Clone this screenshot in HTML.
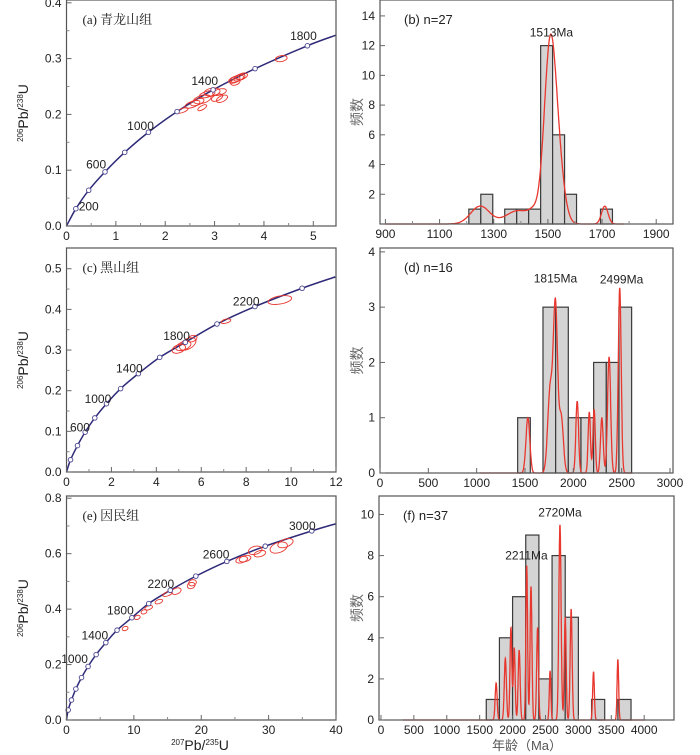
<!DOCTYPE html>
<html><head><meta charset="utf-8">
<style>
html,body{margin:0;padding:0;background:#fff;}
svg{display:block;font-family:"Liberation Sans","Noto Sans CJK SC",sans-serif;}
</style></head>
<body>
<svg id="fig" width="700" height="755" viewBox="0 0 700 755" xmlns="http://www.w3.org/2000/svg"></svg>
<script>
// ===== Concordia data =====
const concA_x=[0,0.19,0.45,0.78,1.18,1.66,2.24,2.97,3.82,4.88,5.46];
const concA_y=[0,0.031,0.064,0.097,0.132,0.168,0.205,0.244,0.282,0.323,0.342];
const concA_lbl=["200","600","1000","1400","1800"];
const concA_lblX=[0.45,0.6,1.5,2.8,4.8];
const concA_lblY=[0.028,0.103,0.172,0.253,0.333];
const ellA=[[2.35,0.207,6,2,-20],[2.55,0.218,8,3,-20],[2.65,0.222,7,3,-20],[2.75,0.227,9,4,-15],[2.85,0.236,8,3,-15],[2.95,0.240,8,4,-10],[3.1,0.240,7,3,-15],[3.05,0.230,6,3,-25],[3.15,0.228,6,3,-25],[2.75,0.212,5,2,-30],[3.4,0.262,6,3,-20],[3.45,0.264,7,3,-20],[3.5,0.266,6,3,-20],[3.55,0.268,6,3,-20],[3.42,0.258,5,3,-20],[4.35,0.300,6,3,-10]];

const concC_x=[0,0.18,0.49,0.83,1.26,1.78,2.41,3.2,4.15,5.29,6.7,8.39,10.49,11.97];
const concC_y=[0,0.030,0.065,0.098,0.133,0.168,0.205,0.242,0.282,0.319,0.364,0.407,0.452,0.48];
const concC_lbl=["600","1000","1400","1800","2200"];
const concC_lblX=[0.6,1.4,2.8,4.9,8.0];
const concC_lblY=[0.100,0.170,0.245,0.325,0.410];
const ellC=[[5.0,0.303,7,4,-20],[5.2,0.310,8,4,-20],[5.4,0.315,9,5,-30],[5.6,0.328,5,3,-20],[7.1,0.371,5,2,-15],[9.5,0.423,12,4,-10]];

const concE_x=[0,0.25,0.74,1.39,2.23,3.2,4.4,5.84,7.5,9.7,12.2,15.4,19.2,23.8,29.5,36.4,40];
const concE_y=[0,0.036,0.072,0.112,0.153,0.193,0.236,0.279,0.324,0.369,0.42,0.468,0.519,0.572,0.627,0.682,0.708];
const concE_lbl=["1000","1400","1800","2200","2600","3000"];
const concE_lblX=[1.2,4.2,8.0,14.0,22.2,35.0];
const concE_lblY=[0.205,0.290,0.380,0.476,0.583,0.685];
const ellE=[[8.7,0.330,3,2,-20],[10.5,0.370,3,2,-20],[11.5,0.390,3,2,-20],[12.2,0.405,4,2,-20],[13.7,0.427,4,2,-20],[15.0,0.455,5,2,-20],[16.3,0.465,5,3,-20],[18.5,0.485,4,3,-20],[18.7,0.495,4,3,-20],[26.0,0.578,6,3,-15],[26.5,0.582,6,3,-15],[28.0,0.612,7,4,-15],[28.7,0.600,6,3,-15],[31.5,0.622,9,5,-20],[32.5,0.638,8,4,-20]];

// ===== Histogram data =====
const histB_start=1208, histB_width=44.2;
const histB_counts=[1,2,0,1,1,1,12,6,2,0,0,1];
const kdeB_age=[1250,1390,1450,1508,1540,1710];
const kdeB_h=[1.2,0.9,0.6,11.6,3.0,1.2];
const kdeB_s=[35,45,20,22,22,12];
const kdeB_range=[900,1780];
const peakB_lbl=["1513Ma"], peakB_age=[1513], peakB_val=[12.6];

const histD_start=1424, histD_width=131;
const histD_counts=[1,0,3,3,1,1,2,2,3];
const kdeD_age=[1530,1760,1815,1875,2040,2165,2215,2295,2370,2480];
const kdeD_h=[1.0,1.5,3.0,1.0,1.3,1.1,1.15,1.0,2.1,3.35];
const kdeD_s=[20,25,22,22,14,12,12,14,16,15];
const kdeD_range=[1030,2610];
const peakD_lbl=["1815Ma","2499Ma"], peakD_age=[1815,2499], peakD_val=[3.45,3.43];

const histF_start=1600, histF_width=200;
const histF_counts=[1,4,6,9,2,8,5,0,1,0,1];
const kdeF_age=[1750,1890,1975,2025,2100,2215,2280,2380,2570,2720,2800,2890,3230,3600];
const kdeF_h=[1.8,3.0,4.5,3.5,3.4,7.5,6.5,4.5,2.4,9.5,5.0,5.4,2.35,2.95];
const kdeF_s=[15,16,14,14,15,13,14,14,12,17,14,15,13,12];
const kdeF_range=[330,4020];
const peakF_lbl=["2211Ma","2720Ma"], peakF_age=[2211,2720], peakF_val=[7.8,9.9];

const NS="http://www.w3.org/2000/svg";
const svg=document.getElementById('fig');
function mk(tag,attrs,parent){const e=document.createElementNS(NS,tag);for(const k in attrs)e.setAttribute(k,attrs[k]);(parent||svg).appendChild(e);return e;}
function txt(s,x,y,anchor,size,parent,extra){const t=mk('text',Object.assign({x:x,y:y,'text-anchor':anchor,'font-size':size,fill:'#222'},extra||{}),parent);t.textContent=s;return t;}

function axes(g,P,xt,yt,xlbl,ylbl,minorX,minorY){
  mk('rect',{x:P.x0,y:P.y0,width:P.x1-P.x0,height:P.y1-P.y0,fill:'none',stroke:'#555','stroke-width':1.2},g);
  xt.forEach((v,i)=>{const px=P.sx(v);
    const t=mk('line',{x1:px,x2:px,y1:P.y1,y2:P.y1-5,stroke:'#666'},g);
    
    
    const l=txt(xlbl[i],px,P.y1+14,'middle',12,g);
    
    });
  yt.forEach((v,i)=>{const py=P.sy(v);
    const t=mk('line',{x1:P.x0,x2:P.x0+5,y1:py,y2:py,stroke:'#666'},g);
    
    
    if(ylbl[i]!==''){const l=txt(ylbl[i],P.x0-5,py+4,'end',12,g);
    
    }});
  (minorX||[]).forEach(v=>{const px=P.sx(v);mk('line',{x1:px,x2:px,y1:P.y1,y2:P.y1-3,stroke:'#888'},g);});
  (minorY||[]).forEach(v=>{const py=P.sy(v);mk('line',{x1:P.x0,x2:P.x0+3,y1:py,y2:py,stroke:'#888'},g);});
}
function panel(x0,x1,y0,y1,dx0,dx1,dy0,dy1){return {x0,x1,y0,y1,sx:v=>x0+(v-dx0)/(dx1-dx0)*(x1-x0),sy:v=>y1-(v-dy0)/(dy1-dy0)*(y1-y0)};}
function smoothPath(pts){let d='M'+pts[0][0]+','+pts[0][1];
  for(let i=0;i<pts.length-1;i++){const p0=pts[Math.max(0,i-1)],p1=pts[i],p2=pts[i+1],p3=pts[Math.min(pts.length-1,i+2)];
    const c1=[p1[0]+(p2[0]-p0[0])/6,p1[1]+(p2[1]-p0[1])/6],c2=[p2[0]-(p3[0]-p1[0])/6,p2[1]-(p3[1]-p1[1])/6];
    d+=' C'+c1.join(',')+' '+c2.join(',')+' '+p2.join(',');}
  return d;}

function concordia(name,P,cx,cy,lbl,lx,ly,ell,title){
  const g=mk('g',{});  
  const pts=cx.map((v,i)=>[P.sx(v),P.sy(cy[i])]);
  const c=mk('path',{d:smoothPath(pts),fill:'none',stroke:'#2e2a78','stroke-width':1.5},g);
  
  
  ell.forEach(e=>{const el=mk('ellipse',{cx:P.sx(e[0]),cy:P.sy(e[1]),rx:e[2],ry:e[3],transform:`rotate(${e[4]} ${P.sx(e[0])} ${P.sy(e[1])})`,fill:'none',stroke:'#e8372e','stroke-width':0.9},g);
    
    });
  for(let i=1;i<cx.length-1;i++){const m=mk('circle',{cx:P.sx(cx[i]),cy:P.sy(cy[i]),r:2.3,fill:'#fff',stroke:'#4a4690','stroke-width':0.9},g);
    
    }
  lbl.forEach((s,i)=>{const t=txt(s,P.sx(lx[i]),P.sy(ly[i]),'middle',12,g);
    
    });
  const t=txt(title,P.x0+16,P.y0+24,'start',13,g,{'font-family':'"Liberation Serif","Noto Serif CJK SC",serif'});
  
  
  return g;
}
function yTitle(g,x,y){const t=mk('text',{x:x,y:y,'text-anchor':'middle','font-size':14,fill:'#222',transform:`rotate(-90 ${x} ${y})`},g);
  t.innerHTML='<tspan font-size="8" dy="-5">206</tspan><tspan dy="5">Pb/</tspan><tspan font-size="8" dy="-5">238</tspan><tspan dy="5">U</tspan>';
  
  }

function histogram(name,P,start,w,counts,age,h,s,range,plbl,page,pval,title){
  const g=mk('g',{});  
  counts.forEach((c,i)=>{if(c<=0)return;const xa=P.sx(start+i*w),xb=P.sx(start+(i+1)*w);
    const r=mk('rect',{x:xa,y:P.sy(c),width:xb-xa,height:P.sy(0)-P.sy(c),fill:'#d4d4d4',stroke:'#3a3a3a','stroke-width':1.2},g);
    
    });
  let d='';for(let a=range[0];a<=range[1];a+=2){let v=0;for(let k=0;k<age.length;k++)v+=h[k]*Math.exp(-0.5*((a-age[k])/s[k])**2);
    d+=(d?' L':'M')+P.sx(a).toFixed(1)+','+P.sy(v).toFixed(1);}
  const p=mk('path',{d:d,fill:'none',stroke:'#e8372e','stroke-width':1.3},g);
  
  
  plbl.forEach((s2,i)=>{const t=txt(s2,P.sx(page[i]),P.sy(pval[i]),'middle',12,g);
    
    });
  const t=txt(title,P.x0+24,P.y0+24,'start',13,g);
  
  
  const yt=mk('text',{x:362,y:(P.y0+P.y1)/2,'text-anchor':'middle','font-size':14,fill:'#666',transform:`rotate(-90 362 ${(P.y0+P.y1)/2})`},g);
  yt.textContent='频数';
  
  
  return g;
}
const rng=(a,b,s)=>{const r=[];for(let v=a;v<=b+1e-9;v+=s)r.push(+v.toFixed(6));return r;};

// Panel a
let P=panel(66.5,336,0,226,0,5.46,0,0.405);
let g=concordia('panel-a-concordia',P,concA_x,concA_y,concA_lbl,concA_lblX,concA_lblY,ellA,'(a) 青龙山组');
axes(g,P,rng(0,5,1),rng(0,0.4,0.1),['0','1','2','3','4','5'],['0.0','0.1','0.2','0.3','0.4'],rng(0.5,4.5,1),rng(0.05,0.35,0.1));
yTitle(g,28,113);
// Panel b
P=panel(380,673,0,224,880,1962,0,15.07);
g=histogram('panel-b-histogram',P,histB_start,histB_width,histB_counts,kdeB_age,kdeB_h,kdeB_s,kdeB_range,peakB_lbl,peakB_age,peakB_val,'(b) n=27');
axes(g,P,rng(900,1900,200),rng(2,14,2),['900','1100','1300','1500','1700','1900'],['2','4','6','8','10','12','14'],rng(1000,1800,200),[]);
// Panel c
P=panel(66.5,336,248,472,0,12,0,0.551);
g=concordia('panel-c-concordia',P,concC_x,concC_y,concC_lbl,concC_lblX,concC_lblY,ellC,'(c) 黑山组');
axes(g,P,rng(0,12,2),rng(0,0.5,0.1),['0','2','4','6','8','10','12'],['0.0','0.1','0.2','0.3','0.4','0.5'],rng(1,11,2),rng(0.05,0.45,0.1));
yTitle(g,28,360);
// Panel d
P=panel(380,673,248,473,0,3031,0,4.07);
g=histogram('panel-d-histogram',P,histD_start,histD_width,histD_counts,kdeD_age,kdeD_h,kdeD_s,kdeD_range,peakD_lbl,peakD_age,peakD_val,'(d) n=16');
axes(g,P,rng(0,3000,500),rng(0,4,1),['0','500','1000','1500','2000','2500','3000'],['0','1','2','3','4'],[],[]);
// Panel e
P=panel(66.5,336,496,720,0,40,0,0.808);
g=concordia('panel-e-concordia',P,concE_x,concE_y,concE_lbl,concE_lblX,concE_lblY,ellE,'(e) 因民组');
axes(g,P,rng(0,40,10),rng(0,0.8,0.2),['0','10','20','30','40'],['0.0','0.2','0.4','0.6','0.8'],rng(5,35,10),rng(0.1,0.7,0.2));
yTitle(g,28,608);
{const t=mk('text',{x:200,y:750,'text-anchor':'middle','font-size':14,fill:'#222'},g);
 t.innerHTML='<tspan font-size="8" dy="-5">207</tspan><tspan dy="5">Pb/</tspan><tspan font-size="8" dy="-5">235</tspan><tspan dy="5">U</tspan>';
 
 }
// Panel f
P=panel(379,674,496,720,-30,4453,0,10.9);
g=histogram('panel-f-histogram',P,histF_start,histF_width,histF_counts,kdeF_age,kdeF_h,kdeF_s,kdeF_range,peakF_lbl,peakF_age,peakF_val,'(f) n=37');
axes(g,P,rng(0,4000,500),rng(0,10,2),['0','500','1000','1500','2000','2500','3000','3500','4000'],['0','2','4','6','8','10'],[],[]);
{const t=txt('年龄（Ma）',527,750,'middle',13,g,{fill:'#555'});
 
 }
</script>
</body></html>
